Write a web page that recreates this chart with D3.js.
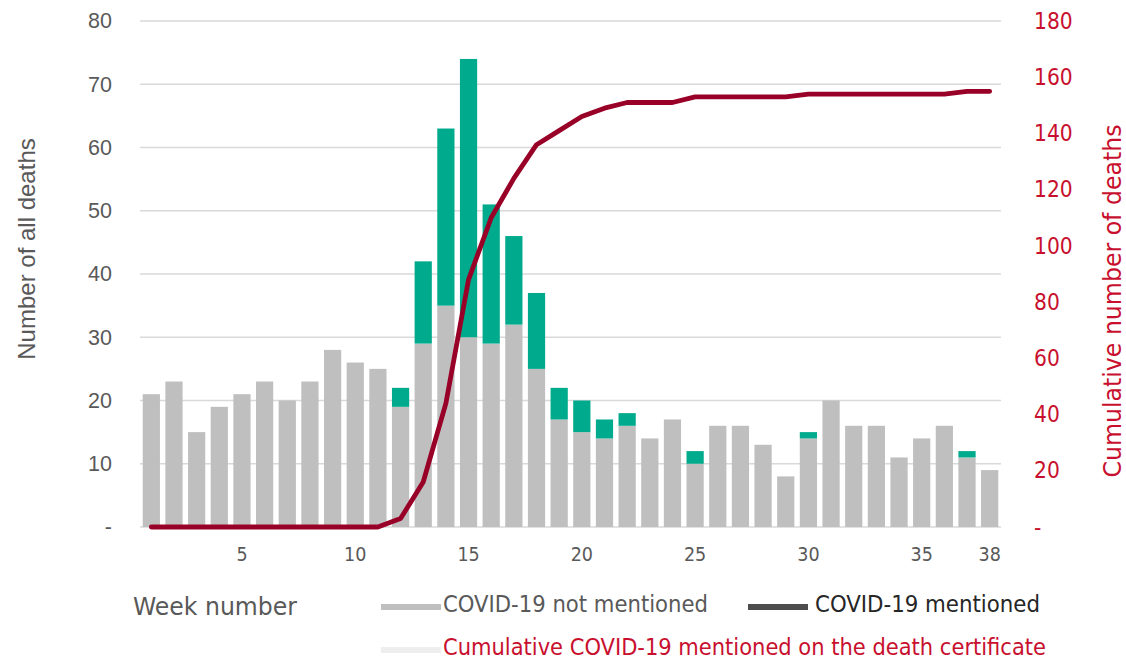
<!DOCTYPE html>
<html><head><meta charset="utf-8">
<script src="https://cdn.jsdelivr.net/npm/d3@7"></script>
<style>body{margin:0;background:#fff}svg{display:block}</style>
</head><body>
<svg id="c" width="1126" height="659"></svg>
<script>
const weeks = d3.range(1, 39);
const notMentioned = [21,23,15,19,21,23,20,23,28,26,25,19,29,35,30,29,32,25,17,15,14,16,14,17,10,16,16,13,8,14,20,16,16,11,14,16,11,9];
const mentioned =    [0,0,0,0,0,0,0,0,0,0,0,3,13,28,44,22,14,12,5,5,3,2,0,0,2,0,0,0,0,1,0,0,0,0,0,0,1,0];
const cumulative =   [0,0,0,0,0,0,0,0,0,0,0,3,16,44,88,110,124,136,141,146,149,151,151,151,153,153,153,153,153,154,154,154,154,154,154,154,155,155];
const leftTicks = [0,10,20,30,40,50,60,70,80];
const rightTicks = [0,20,40,60,80,100,120,140,160,180];
const xTickWeeks = [5,10,15,20,25,30,35,38];

const svg = d3.select("#c");
const L = 140, R = 1001, T = 21, B = 527;
const x = d3.scaleBand().domain(weeks).range([L, R]).paddingInner(0.24).paddingOuter(0.12);
const y = d3.scaleLinear().domain([0, 80]).range([B, T]);
const y2 = d3.scaleLinear().domain([0, 180]).range([B, T]);
const grey = "#595959", red = "#c8102e";
const arial = "Liberation Sans, Arial, sans-serif";
const tahoma = "DejaVu Sans Condensed, DejaVu Sans, sans-serif";

// gridlines
svg.append("g").selectAll("line").data(leftTicks).join("line")
  .attr("x1", L).attr("x2", R).attr("y1", d => y(d)).attr("y2", d => y(d))
  .attr("stroke", "#d9d9d9").attr("stroke-width", 1.3);

// bars
const g = svg.append("g");
g.selectAll(".nm").data(weeks).join("rect")
  .attr("x", d => x(d)).attr("width", x.bandwidth())
  .attr("y", (d,i) => y(notMentioned[i])).attr("height", (d,i) => y(0) - y(notMentioned[i]))
  .attr("fill", "#bfbfbf");
g.selectAll(".m").data(weeks.filter((d,i) => mentioned[i] > 0)).join("rect")
  .attr("x", d => x(d)).attr("width", x.bandwidth())
  .attr("y", d => y(notMentioned[d-1] + mentioned[d-1]))
  .attr("height", d => y(notMentioned[d-1]) - y(notMentioned[d-1] + mentioned[d-1]))
  .attr("fill", "#00aa8c");

// line
const line = d3.line().x((d,i) => x(weeks[i]) + x.bandwidth()/2).y(d => y2(d));
svg.append("path").datum(cumulative).attr("d", line)
  .attr("fill", "none").attr("stroke", "#990027").attr("stroke-width", 4.8)
  .attr("stroke-linejoin", "round").attr("stroke-linecap", "round");

// left axis
const ax = d3.axisLeft(y).tickValues(leftTicks).tickSize(0).tickPadding(0)
  .tickFormat(d => d === 0 ? "-" : d);
const gl = svg.append("g").attr("transform", "translate(112,0)").call(ax);
gl.select(".domain").remove();
gl.selectAll("text").attr("fill", grey).style("font-family", arial).style("font-size", "21.5px");

// right axis
const ax2 = d3.axisRight(y2).tickValues(rightTicks).tickSize(0).tickPadding(0)
  .tickFormat(d => d === 0 ? "-" : d);
const gr = svg.append("g").attr("transform", "translate(1034,0)").call(ax2);
gr.select(".domain").remove();
gr.selectAll("text").attr("fill", red).style("font-family", tahoma).style("font-size", "22.5px");

// x axis
const ax3 = d3.axisBottom(x).tickValues(xTickWeeks).tickSize(0).tickPadding(0);
const gx = svg.append("g").attr("transform", "translate(0,547)").call(ax3);
gx.select(".domain").remove();
gx.selectAll("text").attr("fill", grey).style("font-family", tahoma).style("font-size", "19.5px");

// axis titles
svg.append("text").attr("transform", "translate(35,249) rotate(-90)").attr("text-anchor", "middle")
  .attr("fill", grey).style("font-family", arial).style("font-size", "24px")
  .text("Number of all deaths");
svg.append("text").attr("transform", "translate(1121,301) rotate(-90)").attr("text-anchor", "middle")
  .attr("fill", red).style("font-family", tahoma).style("font-size", "24px")
  .attr("textLength", 353).attr("lengthAdjust", "spacingAndGlyphs")
  .text("Cumulative number of deaths");

// legend
svg.append("text").attr("x", 133).attr("y", 615).attr("fill", grey)
  .style("font-family", tahoma).style("font-size", "24px")
  .attr("textLength", 164).attr("lengthAdjust", "spacingAndGlyphs").text("Week number");
const legend = [
  {x: 381, y: 607, c: "#bfbfbf", t: "COVID-19 not mentioned", tc: grey, w: 265, tx: 443, ty: 612},
  {x: 748, y: 607, c: "#4d4d4d", t: "COVID-19 mentioned", tc: "#262626", w: 225, tx: 815, ty: 612},
  {x: 381, y: 650, c: "#eeeeee", t: "Cumulative COVID-19 mentioned on the death certificate", tc: red, w: 603, tx: 443, ty: 655}
];
const lg = svg.append("g").selectAll("g").data(legend).join("g");
lg.append("rect").attr("x", d => d.x).attr("y", d => d.y - 3).attr("width", 60).attr("height", 6).attr("fill", d => d.c);
lg.append("text").attr("x", d => d.tx).attr("y", d => d.ty).attr("fill", d => d.tc)
  .style("font-family", tahoma).style("font-size", "23px")
  .attr("textLength", d => d.w).attr("lengthAdjust", "spacingAndGlyphs").text(d => d.t);
</script>
</body></html>
